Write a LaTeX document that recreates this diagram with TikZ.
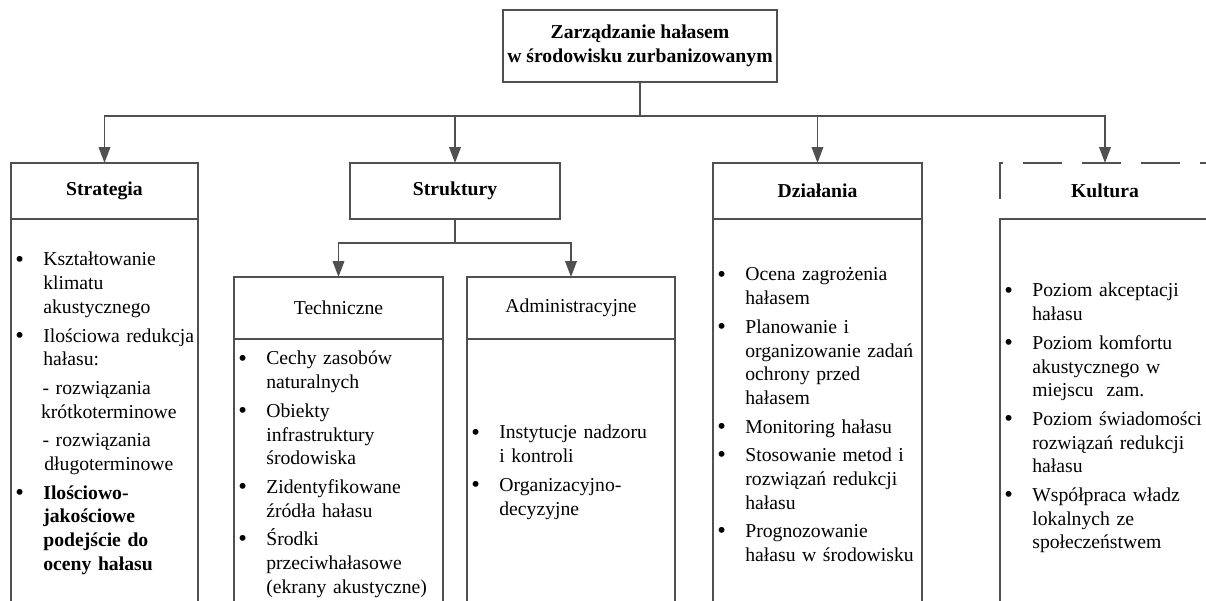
\documentclass[tikz,border=0pt]{standalone}
\usepackage{fontspec}
\setmainfont{Liberation Serif}
\usepackage{xcolor}
\usetikzlibrary{arrows.meta, positioning}

\definecolor{szary}{RGB}{80,80,80}
% punkt listy z wiszacym wcieciem
\newcommand{\kropka}{\raisebox{-0.6pt}{\fontsize{14}{13.5}\selectfont\textbullet}}
\newcommand{\pkt}[1]{\hangindent=0.5cm\hangafter=1\noindent\hbox to 0.5cm{\strut\hspace{-0.06cm}\kropka\hfil}#1\par}
% podpunkt wysrodkowany
\newcommand{\pod}[1]{{\centering\noindent\strut#1\par}}

\begin{document}
\begin{tikzpicture}[
  linia/.style={draw=szary, line width=1.1pt},
  ramka/.style={rectangle, linia, outer sep=0pt, inner sep=2pt, align=center},
  naglowek/.style={ramka, minimum height=1.12cm},
  korpus/.style={ramka, anchor=north, minimum height=9cm},
  lista/.style={inner sep=0pt, align=left, text width=#1,
    execute at begin node={\setlength{\parskip}{2.8pt}\setlength{\parindent}{0pt}\hyphenpenalty=10000}},
  lista/.default=4.4cm,
  strzalka/.style={linia, -{Triangle[length=9pt, width=6.5pt]}},
  every node/.style={font=\fontsize{11.2}{13.5}\selectfont},
  grubo/.style={font=\fontsize{11.2}{13.5}\selectfont\bfseries},
]
\useasboundingbox (0,0) rectangle (24.12,-12.02);
\clip (0,0) rectangle (24.12,-12.02);

\node[ramka, grubo, minimum width=5.48cm, minimum height=1.44cm] (zarz) at (12.8,-0.92)
  {Zarządzanie hałasem\\w środowisku zurbanizowanym};

\node[naglowek, grubo, minimum width=3.74cm] (strat) at (2.09,-3.82) {Strategia};
\node[naglowek, grubo, minimum width=4.2cm] (strukt) at (9.1,-3.82) {Struktury};
\node[naglowek, grubo, minimum width=4.18cm] (dzial) at (16.35,-3.82) {Działania};
\node[naglowek, grubo, draw=none, minimum width=4.2cm] (kult) at (22.1,-3.82) {Kultura};
\node[naglowek, minimum width=4.18cm, minimum height=1.24cm] (tech) at (6.77,-6.16) {Techniczne};
\node[naglowek, minimum width=4.16cm, minimum height=1.24cm] (adm) at (11.42,-6.16) {Administracyjne};

\draw[linia, dash pattern=on 0.78cm off 0.4cm, dash phase=0.78cm]
  (kult.south west) |- (kult.north east) -- (kult.south east);

\node[korpus, minimum width=3.74cm] (stratk) at (strat.south) {};
\node[korpus, minimum width=4.18cm] (techk) at (tech.south) {};
\node[korpus, minimum width=4.16cm] (admk) at (adm.south) {};
\node[korpus, minimum width=4.18cm] (dzialk) at (dzial.south) {};
\node[korpus, minimum width=4.2cm] (kultk) at (kult.south) {};

\node[lista=3.62cm, below right=0.6cm and 0.14cm of stratk.north west] (stratl) {
  \pkt{Kształtowanie\newline klimatu\newline akustycznego}
  \pkt{Ilościowa redukcja\newline hałasu:}
  \pod{- rozwiązania\newline krótkoterminowe}
  \pod{- rozwiązania\newline długoterminowe}
  \pkt{\textbf{Ilościowo-\newline jakościowe\newline podejście do\newline oceny hałasu}}
};
\node[lista, below right=0.18cm and 0.14cm of techk.north west] (techl) {
  \pkt{Cechy zasobów\newline naturalnych}
  \pkt{Obiekty\newline infrastruktury\newline środowiska}
  \pkt{Zidentyfikowane\newline źródła hałasu}
  \pkt{Środki\newline przeciwhałasowe\newline (ekrany akustyczne)}
};
\node[lista, below right=1.66cm and 0.14cm of admk.north west] (adml) {
  \pkt{Instytucje nadzoru\newline i kontroli}
  \pkt{Organizacyjno-\newline decyzyjne}
};
\node[lista, below right=0.9cm and 0.14cm of dzialk.north west] (dziall) {
  \pkt{Ocena zagrożenia\newline hałasem}
  \pkt{Planowanie i\newline organizowanie zadań\newline ochrony przed\newline hałasem}
  \pkt{Monitoring hałasu}
  \pkt{Stosowanie metod i\newline rozwiązań redukcji\newline hałasu}
  \pkt{Prognozowanie\newline hałasu w środowisku}
};
\node[lista, below right=1.22cm and 0.14cm of kultk.north west] (kultl) {
  \pkt{Poziom akceptacji\newline hałasu}
  \pkt{Poziom komfortu\newline akustycznego w\newline miejscu\ \ zam.}
  \pkt{Poziom świadomości\newline rozwiązań redukcji\newline hałasu}
  \pkt{Współpraca władz\newline lokalnych ze\newline społeczeństwem}
};

\foreach \cel in {strat, strukt, dzial, kult}
  \draw[strzalka] (zarz.south) -- ++(0,-0.68) -| (\cel.north);
\foreach \cel in {tech, adm}
  \draw[strzalka] (strukt.south) -- ++(0,-0.48) -| (\cel.north);
\end{tikzpicture}
\end{document}
